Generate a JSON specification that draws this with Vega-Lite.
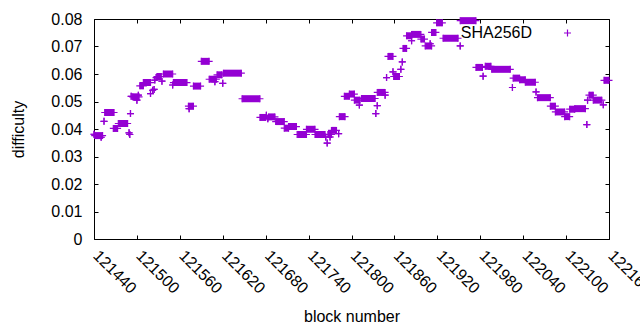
{
  "$schema": "https://vega.github.io/schema/vega-lite/v6.json",
  "width": 515,
  "height": 220,
  "autosize": {"type": "none"},
  "padding": {"left": 94, "top": 19, "right": 31, "bottom": 91},
  "background": "white",
  "config": {
    "font": "Liberation Sans",
    "view": {"stroke": "black", "strokeWidth": 1},
    "axis": {
      "grid": false,
      "domain": false,
      "tickColor": "black",
      "tickSize": -4,
      "tickWidth": 1,
      "labelColor": "black",
      "labelFont": "Liberation Sans",
      "labelFontSize": 16,
      "titleFont": "Liberation Sans",
      "titleFontSize": 16,
      "titleFontWeight": "normal",
      "titleColor": "black",
      "labelFlush": false,
      "labelOverlap": false
    },
    "legend": {
      "orient": "none",
      "legendX": 465.5,
      "legendY": 6,
      "symbolType": "M-1,0H1M0,-1V1",
      "symbolSize": 49,
      "symbolStrokeWidth": 1.2,
      "labelFont": "Liberation Sans",
      "labelFontSize": 16,
      "labelColor": "black",
      "labelAlign": "right",
      "labelOffset": -43.5,
      "padding": 0
    }
  },
  "data": {
    "values": [
      {"start": 121440, "end": 121440, "difficulty": 0.0381},
      {"start": 121441, "end": 121452, "difficulty": 0.0376},
      {"start": 121450, "end": 121450, "difficulty": 0.0370},
      {"start": 121454, "end": 121454, "difficulty": 0.0428},
      {"start": 121455, "end": 121468, "difficulty": 0.0460},
      {"start": 121467, "end": 121473, "difficulty": 0.0402},
      {"start": 121474, "end": 121487, "difficulty": 0.0420},
      {"start": 121489, "end": 121489, "difficulty": 0.0386},
      {"start": 121490, "end": 121490, "difficulty": 0.0380},
      {"start": 121491, "end": 121491, "difficulty": 0.0456},
      {"start": 121492, "end": 121492, "difficulty": 0.0519},
      {"start": 121494, "end": 121503, "difficulty": 0.0517},
      {"start": 121500, "end": 121500, "difficulty": 0.0505},
      {"start": 121502, "end": 121502, "difficulty": 0.0523},
      {"start": 121504, "end": 121509, "difficulty": 0.0557},
      {"start": 121509, "end": 121519, "difficulty": 0.0569},
      {"start": 121519, "end": 121519, "difficulty": 0.0529},
      {"start": 121522, "end": 121522, "difficulty": 0.0541},
      {"start": 121524, "end": 121524, "difficulty": 0.0544},
      {"start": 121525, "end": 121525, "difficulty": 0.0578},
      {"start": 121527, "end": 121527, "difficulty": 0.0587},
      {"start": 121528, "end": 121534, "difficulty": 0.0591},
      {"start": 121535, "end": 121535, "difficulty": 0.0574},
      {"start": 121537, "end": 121550, "difficulty": 0.0600},
      {"start": 121550, "end": 121550, "difficulty": 0.0560},
      {"start": 121551, "end": 121570, "difficulty": 0.0569},
      {"start": 121572, "end": 121579, "difficulty": 0.0483},
      {"start": 121573, "end": 121573, "difficulty": 0.0474},
      {"start": 121579, "end": 121589, "difficulty": 0.0556},
      {"start": 121590, "end": 121601, "difficulty": 0.0646},
      {"start": 121601, "end": 121611, "difficulty": 0.0581},
      {"start": 121609, "end": 121609, "difficulty": 0.0572},
      {"start": 121612, "end": 121619, "difficulty": 0.0597},
      {"start": 121620, "end": 121620, "difficulty": 0.0566},
      {"start": 121621, "end": 121646, "difficulty": 0.0603},
      {"start": 121647, "end": 121672, "difficulty": 0.0510},
      {"start": 121672, "end": 121680, "difficulty": 0.0442},
      {"start": 121681, "end": 121681, "difficulty": 0.0450},
      {"start": 121683, "end": 121683, "difficulty": 0.0437},
      {"start": 121684, "end": 121693, "difficulty": 0.0444},
      {"start": 121694, "end": 121706, "difficulty": 0.0427},
      {"start": 121706, "end": 121712, "difficulty": 0.0403},
      {"start": 121712, "end": 121723, "difficulty": 0.0409},
      {"start": 121724, "end": 121737, "difficulty": 0.0380},
      {"start": 121737, "end": 121749, "difficulty": 0.0399},
      {"start": 121749, "end": 121763, "difficulty": 0.0380},
      {"start": 121764, "end": 121764, "difficulty": 0.0371},
      {"start": 121766, "end": 121766, "difficulty": 0.0349},
      {"start": 121767, "end": 121772, "difficulty": 0.0380},
      {"start": 121770, "end": 121770, "difficulty": 0.0371},
      {"start": 121772, "end": 121779, "difficulty": 0.0395},
      {"start": 121782, "end": 121782, "difficulty": 0.0383},
      {"start": 121783, "end": 121791, "difficulty": 0.0445},
      {"start": 121790, "end": 121797, "difficulty": 0.0519},
      {"start": 121797, "end": 121804, "difficulty": 0.0527},
      {"start": 121804, "end": 121812, "difficulty": 0.0505},
      {"start": 121811, "end": 121811, "difficulty": 0.0487},
      {"start": 121814, "end": 121833, "difficulty": 0.0511},
      {"start": 121834, "end": 121834, "difficulty": 0.0456},
      {"start": 121836, "end": 121836, "difficulty": 0.0485},
      {"start": 121836, "end": 121847, "difficulty": 0.0533},
      {"start": 121847, "end": 121847, "difficulty": 0.0523},
      {"start": 121849, "end": 121849, "difficulty": 0.0587},
      {"start": 121851, "end": 121858, "difficulty": 0.0664},
      {"start": 121858, "end": 121858, "difficulty": 0.0608},
      {"start": 121859, "end": 121867, "difficulty": 0.0591},
      {"start": 121869, "end": 121869, "difficulty": 0.0617},
      {"start": 121871, "end": 121871, "difficulty": 0.0644},
      {"start": 121872, "end": 121877, "difficulty": 0.0693},
      {"start": 121877, "end": 121884, "difficulty": 0.0739},
      {"start": 121884, "end": 121884, "difficulty": 0.0721},
      {"start": 121884, "end": 121897, "difficulty": 0.0744},
      {"start": 121897, "end": 121902, "difficulty": 0.0727},
      {"start": 121903, "end": 121912, "difficulty": 0.0702},
      {"start": 121910, "end": 121910, "difficulty": 0.0710},
      {"start": 121912, "end": 121918, "difficulty": 0.0751},
      {"start": 121919, "end": 121927, "difficulty": 0.0786},
      {"start": 121928, "end": 121949, "difficulty": 0.0730},
      {"start": 121952, "end": 121952, "difficulty": 0.0702},
      {"start": 121952, "end": 121974, "difficulty": 0.0794},
      {"start": 121974, "end": 121983, "difficulty": 0.0624},
      {"start": 121984, "end": 121984, "difficulty": 0.0592},
      {"start": 121987, "end": 121995, "difficulty": 0.0628},
      {"start": 121996, "end": 122022, "difficulty": 0.0617},
      {"start": 122025, "end": 122025, "difficulty": 0.0551},
      {"start": 122026, "end": 122035, "difficulty": 0.0585},
      {"start": 122035, "end": 122043, "difficulty": 0.0579},
      {"start": 122043, "end": 122057, "difficulty": 0.0570},
      {"start": 122058, "end": 122058, "difficulty": 0.0535},
      {"start": 122060, "end": 122078, "difficulty": 0.0514},
      {"start": 122078, "end": 122085, "difficulty": 0.0483},
      {"start": 122085, "end": 122098, "difficulty": 0.0462},
      {"start": 122098, "end": 122105, "difficulty": 0.0445},
      {"start": 122105, "end": 122112, "difficulty": 0.0472},
      {"start": 122112, "end": 122127, "difficulty": 0.0474},
      {"start": 122129, "end": 122129, "difficulty": 0.0416},
      {"start": 122130, "end": 122130, "difficulty": 0.0505},
      {"start": 122132, "end": 122138, "difficulty": 0.0523},
      {"start": 122138, "end": 122150, "difficulty": 0.0505},
      {"start": 122152, "end": 122152, "difficulty": 0.0488},
      {"start": 122153, "end": 122160, "difficulty": 0.0577}
    ]
  },
  "resolve": {"axis": {"x": "independent", "y": "independent"}},
  "layer": [
    {
      "mark": {"type": "rule", "strokeWidth": 7, "strokeCap": "butt", "color": "#9400D3"},
      "encoding": {
        "x": {
          "field": "start", "type": "quantitative",
          "scale": {"domain": [121440, 122160], "nice": false, "zero": false},
          "axis": {
            "title": "block number",
            "values": [121440, 121500, 121560, 121620, 121680, 121740, 121800, 121860, 121920, 121980, 122040, 122100, 122160],
            "format": "d",
            "labelAngle": 45,
            "labelAlign": "left",
            "labelBaseline": "top",
            "labelPadding": 12,
            "labelOffset": 7,
            "titlePadding": 12
          }
        },
        "x2": {"field": "end"},
        "y": {
          "field": "difficulty", "type": "quantitative",
          "scale": {"domain": [0, 0.08], "nice": false},
          "axis": {
            "title": "difficulty",
            "values": [0, 0.01, 0.02, 0.03, 0.04, 0.05, 0.06, 0.07, 0.08],
            "format": "~g",
            "labelPadding": 16,
            "titlePadding": 24
          }
        }
      }
    },
    {
      "mark": {"type": "point", "shape": "M-1,0H1M0,-1V1", "filled": false, "size": 49, "strokeWidth": 1.2, "opacity": 1},
      "encoding": {
        "x": {"field": "start", "type": "quantitative", "axis": null},
        "y": {"field": "difficulty", "type": "quantitative", "axis": null},
        "color": {"datum": "SHA256D", "type": "nominal", "scale": {"range": ["#9400D3"]}, "legend": {"title": null}}
      }
    },
    {
      "mark": {"type": "point", "shape": "M-1,0H1M0,-1V1", "filled": false, "size": 49, "strokeWidth": 1.2, "opacity": 1, "color": "#9400D3"},
      "encoding": {
        "x": {
          "field": "end", "type": "quantitative",
          "axis": {"orient": "top", "labels": false, "title": null,
            "values": [121440, 121500, 121560, 121620, 121680, 121740, 121800, 121860, 121920, 121980, 122040, 122100, 122160]}
        },
        "y": {
          "field": "difficulty", "type": "quantitative",
          "axis": {"orient": "right", "labels": false, "title": null,
            "values": [0, 0.01, 0.02, 0.03, 0.04, 0.05, 0.06, 0.07, 0.08]}
        }
      }
    }
  ]
}
